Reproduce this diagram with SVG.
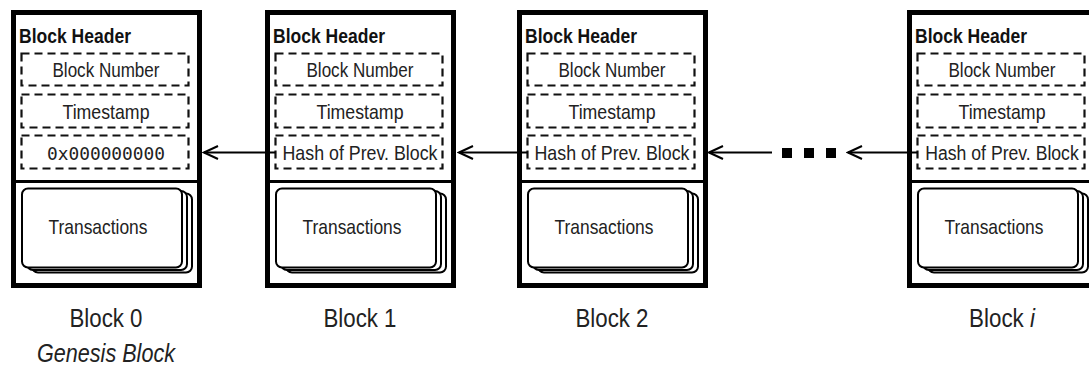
<svg xmlns="http://www.w3.org/2000/svg" width="1089" height="369" viewBox="0 0 1089 369">
  <defs>
    <style>
      .outer { fill: #fff; stroke: #000; stroke-width: 5; }
      .divider { stroke: #000; stroke-width: 3; }
      .dash { fill: #fff; stroke: #111; stroke-width: 2.2; stroke-dasharray: 8 5; }
      .card { fill: #fff; stroke: #000; stroke-width: 2; }
      .hdr { font-family: "Liberation Sans", Arial, sans-serif; font-weight: bold; font-size: 21px; fill: #111; }
      .fld { font-family: "Liberation Sans", Arial, sans-serif; font-size: 21px; fill: #222; text-anchor: middle; }
      .mono { font-family: "DejaVu Sans Mono", "Liberation Mono", monospace; font-size: 18px; fill: #222; text-anchor: middle; }
      .lbl { font-family: "Liberation Sans", Arial, sans-serif; font-size: 26px; fill: #222; text-anchor: middle; }
      .conn { stroke: #000; stroke-width: 2; fill: none; marker-end: url(#arr); }
    </style>
    <marker id="arr" markerUnits="userSpaceOnUse" markerWidth="18" markerHeight="18" viewBox="0 0 18 18" refX="16" refY="9" orient="auto">
      <path d="M2,2.5 L16,9 L2,15.5" fill="none" stroke="#000" stroke-width="2"/>
    </marker>
  </defs>
  <rect width="1089" height="369" fill="#fff"/>

  <!-- Block 0 -->
  <g id="block0" transform="translate(11,0)">
    <rect class="outer" x="2.5" y="12.5" width="186" height="273"/>
    <line class="divider" x1="0" y1="181.5" x2="191" y2="181.5"/>
    <text class="hdr" x="8" y="43" textLength="112" lengthAdjust="spacingAndGlyphs">Block Header</text>
    <rect class="dash" x="10.5" y="53.5" width="167" height="32"/>
    <text class="fld" x="95" y="77" textLength="107" lengthAdjust="spacingAndGlyphs">Block Number</text>
    <rect class="dash" x="10.5" y="94.5" width="167" height="33"/>
    <text class="fld" x="95" y="118.5" textLength="87" lengthAdjust="spacingAndGlyphs">Timestamp</text>
    <rect class="dash" x="10.5" y="135.5" width="167" height="33"/>
    <text class="mono" x="95" y="159.5" textLength="118" lengthAdjust="spacingAndGlyphs">0x000000000</text>
    <rect class="card" x="21" y="193.5" width="160" height="79" rx="6"/>
    <rect class="card" x="16" y="191" width="160" height="79" rx="6"/>
    <rect class="card" x="11" y="188.5" width="160" height="79" rx="6"/>
    <text class="fld" x="87" y="234" textLength="99" lengthAdjust="spacingAndGlyphs">Transactions</text>
    <text class="lbl" x="95" y="327" textLength="73" lengthAdjust="spacingAndGlyphs">Block 0</text>
    <text class="lbl" x="95" y="362" font-style="italic" textLength="138" lengthAdjust="spacingAndGlyphs">Genesis Block</text>
  </g>

  <!-- Block 1 -->
  <g id="block1" transform="translate(265,0)">
    <rect class="outer" x="2.5" y="12.5" width="186" height="273"/>
    <line class="divider" x1="0" y1="181.5" x2="191" y2="181.5"/>
    <text class="hdr" x="8" y="43" textLength="112" lengthAdjust="spacingAndGlyphs">Block Header</text>
    <rect class="dash" x="10.5" y="53.5" width="167" height="32"/>
    <text class="fld" x="95" y="77" textLength="107" lengthAdjust="spacingAndGlyphs">Block Number</text>
    <rect class="dash" x="10.5" y="94.5" width="167" height="33"/>
    <text class="fld" x="95" y="118.5" textLength="87" lengthAdjust="spacingAndGlyphs">Timestamp</text>
    <rect class="dash" x="10.5" y="135.5" width="167" height="33"/>
    <text class="fld" x="95" y="159.5" textLength="155" lengthAdjust="spacingAndGlyphs">Hash of Prev. Block</text>
    <rect class="card" x="21" y="193.5" width="160" height="79" rx="6"/>
    <rect class="card" x="16" y="191" width="160" height="79" rx="6"/>
    <rect class="card" x="11" y="188.5" width="160" height="79" rx="6"/>
    <text class="fld" x="87" y="234" textLength="99" lengthAdjust="spacingAndGlyphs">Transactions</text>
    <text class="lbl" x="95" y="327" textLength="73" lengthAdjust="spacingAndGlyphs">Block 1</text>
  </g>

  <!-- Block 2 -->
  <g id="block2" transform="translate(517,0)">
    <rect class="outer" x="2.5" y="12.5" width="186" height="273"/>
    <line class="divider" x1="0" y1="181.5" x2="191" y2="181.5"/>
    <text class="hdr" x="8" y="43" textLength="112" lengthAdjust="spacingAndGlyphs">Block Header</text>
    <rect class="dash" x="10.5" y="53.5" width="167" height="32"/>
    <text class="fld" x="95" y="77" textLength="107" lengthAdjust="spacingAndGlyphs">Block Number</text>
    <rect class="dash" x="10.5" y="94.5" width="167" height="33"/>
    <text class="fld" x="95" y="118.5" textLength="87" lengthAdjust="spacingAndGlyphs">Timestamp</text>
    <rect class="dash" x="10.5" y="135.5" width="167" height="33"/>
    <text class="fld" x="95" y="159.5" textLength="155" lengthAdjust="spacingAndGlyphs">Hash of Prev. Block</text>
    <rect class="card" x="21" y="193.5" width="160" height="79" rx="6"/>
    <rect class="card" x="16" y="191" width="160" height="79" rx="6"/>
    <rect class="card" x="11" y="188.5" width="160" height="79" rx="6"/>
    <text class="fld" x="87" y="234" textLength="99" lengthAdjust="spacingAndGlyphs">Transactions</text>
    <text class="lbl" x="95" y="327" textLength="73" lengthAdjust="spacingAndGlyphs">Block 2</text>
  </g>

  <!-- Block i -->
  <g id="blocki" transform="translate(907,0)">
    <rect class="outer" x="2.5" y="12.5" width="186" height="273"/>
    <line class="divider" x1="0" y1="181.5" x2="191" y2="181.5"/>
    <text class="hdr" x="8" y="43" textLength="112" lengthAdjust="spacingAndGlyphs">Block Header</text>
    <rect class="dash" x="10.5" y="53.5" width="167" height="32"/>
    <text class="fld" x="95" y="77" textLength="107" lengthAdjust="spacingAndGlyphs">Block Number</text>
    <rect class="dash" x="10.5" y="94.5" width="167" height="33"/>
    <text class="fld" x="95" y="118.5" textLength="87" lengthAdjust="spacingAndGlyphs">Timestamp</text>
    <rect class="dash" x="10.5" y="135.5" width="167" height="33"/>
    <text class="fld" transform="translate(95,159.5) scale(0.84,1)" x="0" y="0">Hash of Prev. Block</text>
    <rect class="card" x="21" y="193.5" width="160" height="79" rx="6"/>
    <rect class="card" x="16" y="191" width="160" height="79" rx="6"/>
    <rect class="card" x="11" y="188.5" width="160" height="79" rx="6"/>
    <text class="fld" x="87" y="234" textLength="99" lengthAdjust="spacingAndGlyphs">Transactions</text>
    <text class="lbl" transform="translate(95,327) scale(0.86,1)" x="0" y="0">Block <tspan font-style="italic">i</tspan></text>
  </g>

  <!-- Connectors -->
  <g id="connectors">
    <line class="conn" x1="275.5" y1="152.5" x2="204" y2="152.5"/>
    <line class="conn" x1="527.5" y1="152.5" x2="459" y2="152.5"/>
    <line class="conn" x1="772" y1="152.5" x2="709" y2="152.5"/>
    <line class="conn" x1="917.5" y1="152.5" x2="848" y2="152.5"/>
    <g id="ellipsis" fill="#000">
      <rect x="782" y="148" width="10" height="10"/>
      <rect x="804" y="148" width="10" height="10"/>
      <rect x="826" y="148" width="10" height="10"/>
    </g>
  </g>
</svg>
